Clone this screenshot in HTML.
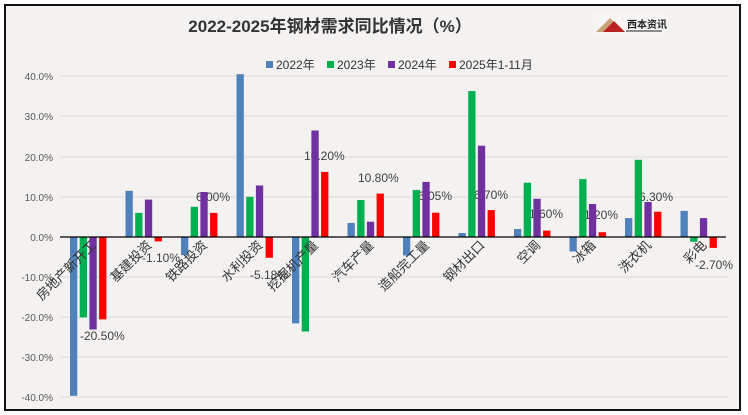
<!DOCTYPE html>
<html><head><meta charset="utf-8"><style>
html,body{margin:0;padding:0;background:#fff;}
svg{display:block;font-family:"Liberation Sans","Noto Sans CJK SC",sans-serif;}
</style></head><body>
<svg width="748" height="415" viewBox="0 0 748 415" xmlns="http://www.w3.org/2000/svg">
<rect x="0" y="0" width="748" height="415" fill="#fff"/>
<rect x="5" y="5" width="735" height="405" fill="#f4f2f0" stroke="#111" stroke-width="2"/>
<text x="330" y="32" text-anchor="middle" font-size="17" font-weight="bold" fill="#333">2022-2025年钢材需求同比情况（%）</text>
<g>
<rect x="593" y="12" width="70" height="24" fill="#f7f5f3"/>
<polygon points="596,32 610,18 624,32" fill="#c9a37a"/>
<polygon points="603,32 614,21 625,32" fill="#b22"/>
<text x="627" y="28" font-size="10" font-weight="bold" fill="#222">西本资讯</text>
<line x1="626" y1="31" x2="662" y2="31" stroke="#222"/>
</g>
<g font-size="12" fill="#333">
<rect x="266" y="61" width="7" height="7" fill="#4f81bd"/><text x="276" y="69">2022年</text>
<rect x="327" y="61" width="7" height="7" fill="#00b050"/><text x="337" y="69">2023年</text>
<rect x="388" y="61" width="7" height="7" fill="#7030a0"/><text x="398" y="69">2024年</text>
<rect x="449" y="61" width="7" height="7" fill="#ff0000"/><text x="459" y="69">2025年1-11月</text>
</g>
<g stroke="#dcdad8" stroke-width="1">
<line x1="60" y1="76" x2="728" y2="76"/><line x1="60" y1="116" x2="728" y2="116"/>
<line x1="60" y1="157" x2="728" y2="157"/><line x1="60" y1="197" x2="728" y2="197"/>
<line x1="60" y1="277" x2="728" y2="277"/><line x1="60" y1="317" x2="728" y2="317"/>
<line x1="60" y1="357" x2="728" y2="357"/><line x1="60" y1="397" x2="728" y2="397"/>
</g>
<g font-size="10" fill="#595959" text-anchor="end">
<text x="53" y="80">40.0%</text><text x="53" y="120">30.0%</text><text x="53" y="161">20.0%</text>
<text x="53" y="201">10.0%</text><text x="53" y="241">0.0%</text><text x="53" y="281">-10.0%</text>
<text x="53" y="321">-20.0%</text><text x="53" y="361">-30.0%</text><text x="53" y="401">-40.0%</text>
</g>
<g font-size="12" fill="#404040">
<text x="80" y="340">-20.50%</text><text x="142" y="262">-1.10%</text><text x="196" y="201">6.00%</text>
<text x="250" y="279">-5.18%</text><text x="304" y="160">16.20%</text><text x="358" y="182">10.80%</text>
<text x="418" y="200">6.05%</text><text x="474" y="199">6.70%</text><text x="529" y="218">1.60%</text>
<text x="584" y="219">1.20%</text><text x="639" y="201">6.30%</text><text x="695" y="269">-2.70%</text>
</g>
<g>
<rect x="70" y="237" width="7.3" height="158.8" fill="#4f81bd"/>
<rect x="79.7" y="237" width="7.3" height="80.4" fill="#00b050"/>
<rect x="89.4" y="237" width="7.3" height="92.5" fill="#7030a0"/>
<rect x="99.1" y="237" width="7.3" height="82.4" fill="#ff0000"/>

<rect x="125.5" y="190.8" width="7.3" height="46.2" fill="#4f81bd"/>
<rect x="135.2" y="212.9" width="7.3" height="24.1" fill="#00b050"/>
<rect x="144.9" y="199.6" width="7.3" height="37.4" fill="#7030a0"/>
<rect x="154.6" y="237" width="7.3" height="4.4" fill="#ff0000"/>

<rect x="181" y="237" width="7.3" height="18.1" fill="#4f81bd"/>
<rect x="190.7" y="206.8" width="7.3" height="30.2" fill="#00b050"/>
<rect x="200.4" y="192" width="7.3" height="45" fill="#7030a0"/>
<rect x="210.1" y="212.9" width="7.3" height="24.1" fill="#ff0000"/>

<rect x="236.5" y="74.2" width="7.3" height="162.8" fill="#4f81bd"/>
<rect x="246.2" y="196.8" width="7.3" height="40.2" fill="#00b050"/>
<rect x="255.9" y="185.5" width="7.3" height="51.5" fill="#7030a0"/>
<rect x="265.6" y="237" width="7.3" height="20.8" fill="#ff0000"/>

<rect x="292" y="237" width="7.3" height="86.4" fill="#4f81bd"/>
<rect x="301.7" y="237" width="7.3" height="94.5" fill="#00b050"/>
<rect x="311.4" y="130.5" width="7.3" height="106.5" fill="#7030a0"/>
<rect x="321.1" y="171.9" width="7.3" height="65.1" fill="#ff0000"/>

<rect x="347.5" y="222.9" width="7.3" height="14.1" fill="#4f81bd"/>
<rect x="357.2" y="200" width="7.3" height="37" fill="#00b050"/>
<rect x="366.9" y="221.7" width="7.3" height="15.3" fill="#7030a0"/>
<rect x="376.6" y="193.6" width="7.3" height="43.4" fill="#ff0000"/>

<rect x="403" y="237" width="7.3" height="18.5" fill="#4f81bd"/>
<rect x="412.7" y="190" width="7.3" height="47" fill="#00b050"/>
<rect x="422.4" y="181.9" width="7.3" height="55.1" fill="#7030a0"/>
<rect x="432.1" y="212.7" width="7.3" height="24.3" fill="#ff0000"/>

<rect x="458.5" y="233" width="7.3" height="4" fill="#4f81bd"/>
<rect x="468.2" y="91.1" width="7.3" height="145.9" fill="#00b050"/>
<rect x="477.9" y="145.7" width="7.3" height="91.3" fill="#7030a0"/>
<rect x="487.6" y="210.1" width="7.3" height="26.9" fill="#ff0000"/>

<rect x="514" y="229" width="7.3" height="8" fill="#4f81bd"/>
<rect x="523.7" y="182.7" width="7.3" height="54.3" fill="#00b050"/>
<rect x="533.4" y="198.8" width="7.3" height="38.2" fill="#7030a0"/>
<rect x="543.1" y="230.6" width="7.3" height="6.4" fill="#ff0000"/>

<rect x="569.5" y="237" width="7.3" height="14.5" fill="#4f81bd"/>
<rect x="579.2" y="179.1" width="7.3" height="57.9" fill="#00b050"/>
<rect x="588.9" y="204" width="7.3" height="33" fill="#7030a0"/>
<rect x="598.6" y="232.2" width="7.3" height="4.8" fill="#ff0000"/>

<rect x="625" y="218.1" width="7.3" height="18.9" fill="#4f81bd"/>
<rect x="634.7" y="159.8" width="7.3" height="77.2" fill="#00b050"/>
<rect x="644.4" y="202" width="7.3" height="35" fill="#7030a0"/>
<rect x="654.1" y="211.7" width="7.3" height="25.3" fill="#ff0000"/>

<rect x="680.5" y="210.9" width="7.3" height="26.1" fill="#4f81bd"/>
<rect x="690.2" y="237" width="7.3" height="4.8" fill="#00b050"/>
<rect x="699.9" y="218.1" width="7.3" height="18.9" fill="#7030a0"/>
<rect x="709.6" y="237" width="7.3" height="10.9" fill="#ff0000"/>
</g>
<line x1="60" y1="237" x2="726" y2="237" stroke="#000" stroke-width="1.2"/>
<g font-size="13" fill="#333" text-anchor="end">
<text transform="translate(97,246) rotate(-45)">房地产新开工</text>
<text transform="translate(152.5,246) rotate(-45)">基建投资</text>
<text transform="translate(208,246) rotate(-45)">铁路投资</text>
<text transform="translate(263.5,246) rotate(-45)">水利投资</text>
<text transform="translate(319,246) rotate(-45)">挖掘机产量</text>
<text transform="translate(374.5,246) rotate(-45)">汽车产量</text>
<text transform="translate(430,246) rotate(-45)">造船完工量</text>
<text transform="translate(485.5,246) rotate(-45)">钢材出口</text>
<text transform="translate(541,246) rotate(-45)">空调</text>
<text transform="translate(596.5,246) rotate(-45)">冰箱</text>
<text transform="translate(652,246) rotate(-45)">洗衣机</text>
<text transform="translate(707.5,246) rotate(-45)">彩电</text>
</g>
</svg>
</body></html>
